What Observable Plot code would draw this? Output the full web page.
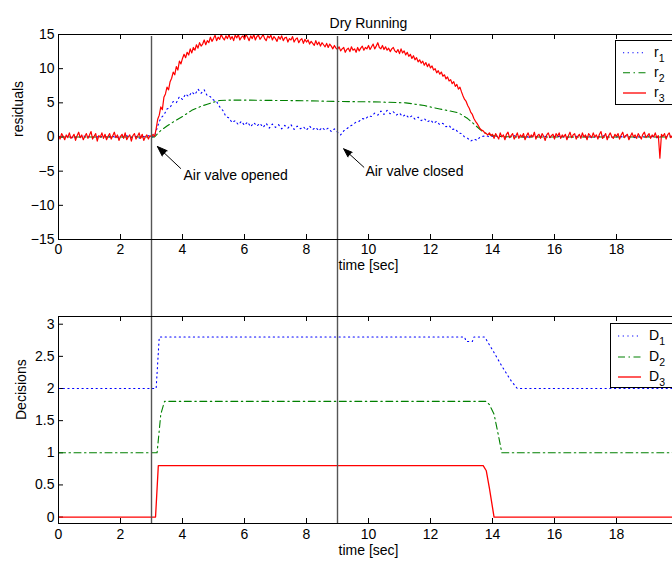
<!DOCTYPE html>
<html>
<head>
<meta charset="utf-8">
<script src="https://cdn.jsdelivr.net/npm/d3@7"></script>
<script src="https://cdn.jsdelivr.net/npm/@observablehq/plot@0.6"></script>
<style>
html, body { margin: 0; padding: 0; overflow: hidden; background: #fff; width: 672px; height: 562px; }
#wrap { position: relative; width: 700px; height: 562px; font-family: "Liberation Sans", Arial, sans-serif; }
#wrap > svg, #wrap > div { position: absolute; left: 0; }
</style>
</head>
<body>
<div id="wrap"></div>
<script>
// ---------------- data ----------------
const xTicks = [0, 2, 4, 6, 8, 10, 12, 14, 16, 18, 20];
const xTickLabels = [0, 2, 4, 6, 8, 10, 12, 14, 16, 18];
const yTicksTop = [-15, -10, -5, 0, 5, 10, 15];
const yTicksBottom = [0, 0.5, 1, 1.5, 2, 2.5, 3];
const events = [3, 9];

const title = "Dry Running";
const xLabel = "time [sec]";
const yLabelTop = "residuals";
const yLabelBottom = "Decisions";

// r1: one sample every r1Step seconds from t = 0
const r1Step = 0.1;
const r1 = [
  0.0, 0.2, -0.1, 0.1, 0.0, -0.2, 0.1, 0.0, 0.2, -0.1,
  0.1, 0.0, -0.2, 0.2, 0.0, 0.1, -0.1, 0.2, 0.0, -0.1,
  0.1, 0.0, 0.2, -0.1, 0.0, 0.1, -0.2, 0.1, 0.0, 0.2,
  0.0, 0.1, 1.6, 2.8, 3.2, 4.1, 4.3, 5.2, 5.0, 5.9,
  5.5, 6.3, 5.9, 6.6, 6.2, 7.0, 6.4, 6.9, 6.0, 5.9,
  5.4, 5.2, 4.4, 3.9, 3.0, 2.8, 2.1, 2.4, 1.8, 2.3,
  1.7, 2.2, 1.5, 2.1, 1.6, 2.0, 1.4, 2.0, 1.3, 1.9,
  1.4, 1.8, 1.2, 1.7, 1.3, 1.8, 1.1, 1.6, 1.2, 1.5,
  1.0, 1.6, 1.1, 1.4, 0.9, 1.4, 1.0, 1.3, 0.8, 1.2,
  0.7, 0.3, 0.9, 1.2, 1.6, 1.8, 2.2, 2.3, 2.7, 2.6,
  3.1, 3.0, 3.5, 3.2, 3.8, 3.3, 3.9, 3.4, 3.7, 3.2,
  3.5, 3.0, 3.3, 2.8, 3.1, 2.6, 2.9, 2.4, 2.7, 2.2,
  2.5, 2.0, 2.3, 1.8, 2.0, 1.5, 1.7, 1.1, 1.2, 0.6,
  0.5, 0.0, -0.2, -0.6, -0.3, -0.5, 0.0, 0.1, 0.2, 0.0,
  0.1, 0.2, 0.0, 0.1, -0.1, 0.1, 0.0, 0.2, 0.0, 0.1,
  0.0, 0.1, -0.1, 0.1, 0.0, 0.2, 0.0, 0.1, -0.1, 0.0,
  0.1, 0.0, 0.2, 0.0, -0.1, 0.1, 0.0, 0.1, 0.0, 0.2,
  0.0, 0.1, -0.1, 0.0, 0.1, 0.0, 0.2, 0.0, 0.1, -0.1,
  0.0, 0.1, 0.0, 0.2, 0.0, 0.1, -0.1, 0.0, 0.1, 0.0,
  0.2, 0.0, 0.1, -0.1, 0.0, 0.1, 0.0, 0.2, 0.0, 0.1,
  0.0
];
// r3: one sample every r3Step seconds from t = 0 (one row per second)
const r3Step = 0.05;
const r3 = [
  0.2, -0.3, 0.5, 0.1, -0.4, 0.3, -0.1, 0.6, -0.2, 0.0, 0.4, -0.5, 0.2, 0.7, -0.1, 0.3, -0.4, 0.1, 0.5, -0.2,
  0.3, 0.8, -0.3, 0.1, 0.5, -0.6, 0.2, 0.0, 0.6, -0.2, 0.4, -0.4, 0.1, 0.5, -0.3, 0.2, 0.7, -0.1, 0.3, -0.5,
  0.1, 0.4, -0.2, 0.6, -0.4, 0.0, 0.3, -0.6, 0.2, 0.5, -0.3, 0.1, 0.6, -0.2, 0.4, -0.5, 0.0, 0.3, -0.3, 0.2,
  0.0, 0.4, 0.1, 1.2, 2.6, 3.2, 4.4, 4.0, 5.8, 6.3, 7.3, 6.9, 8.1, 8.6, 9.5, 9.1, 10.3, 9.8, 11.1, 10.7,
  11.5, 12.1, 11.6, 12.4, 12.0, 12.9, 12.3, 13.1, 12.7, 13.5, 13.0, 13.8, 13.3, 13.6, 14.2, 13.5, 14.1, 13.8, 14.6, 14.0,
  14.4, 14.9, 14.1, 14.6, 14.3, 15.0, 14.5, 14.2, 14.8, 14.4, 15.0, 14.3, 14.7, 14.1, 14.9, 14.5, 15.0, 14.2, 14.6, 14.8,
  14.3, 15.0, 14.6, 14.1, 14.8, 14.4, 15.0, 14.2, 14.7, 14.9, 14.3, 14.6, 15.0, 14.4, 14.1, 14.8, 14.5, 14.9, 14.2, 14.7,
  14.4, 14.0, 14.7, 14.3, 14.8, 14.1, 14.5, 14.6, 13.9, 14.4, 14.2, 14.7, 13.9, 14.3, 14.5, 13.8, 14.2, 14.4, 13.7, 14.3,
  13.9, 14.2, 13.6, 14.0, 13.7, 13.4, 14.1, 13.5, 13.9, 13.3, 13.8, 13.5, 13.2, 13.7, 13.1, 13.6, 13.3, 12.9, 13.4, 13.0,
  12.8, 13.2, 12.6, 12.9, 13.1, 12.4, 12.8, 13.0, 12.5, 13.2, 12.7, 12.9, 12.4, 13.1, 12.6, 13.0, 13.3, 12.7, 13.1, 12.9,
  13.4, 12.8, 13.2, 13.6, 12.9, 13.3, 13.8, 13.1, 12.9, 13.4, 12.8, 13.2, 12.7, 13.0, 12.5, 12.9, 13.1, 12.6, 12.4, 12.8,
  12.2, 12.9, 12.3, 12.6, 12.0, 12.4, 11.8, 12.1, 11.5, 11.9, 11.3, 11.6, 11.0, 11.3, 10.8, 11.1, 10.5, 10.9, 10.3, 10.7,
  10.1, 10.4, 9.8, 10.0, 9.4, 9.7, 9.2, 9.5, 8.9, 9.1, 8.5, 8.8, 8.2, 8.4, 7.8, 8.1, 7.4, 7.7, 7.0, 7.3,
  6.6, 6.0, 5.5, 5.2, 4.6, 4.2, 3.6, 3.3, 2.7, 2.3, 2.0, 1.6, 1.2, 1.0, 0.9, 0.6, 0.5, 0.3, 0.6, 0.2,
  0.4, -0.2, 0.5, 0.1, -0.3, 0.6, 0.0, 0.3, -0.4, 0.4, 0.7, -0.1, 0.2, 0.5, -0.3, 0.1, 0.6, -0.2, 0.3, 0.0,
  0.5, -0.4, 0.2, 0.6, -0.1, 0.3, 0.0, 0.7, -0.3, 0.2, 0.4, -0.2, 0.5, 0.1, -0.5, 0.3, 0.6, -0.1, 0.2, 0.4,
  -0.3, 0.5, 0.1, 0.6, -0.2, 0.3, 0.0, 0.4, -0.4, 0.2, 0.7, -0.1, 0.3, 0.5, -0.3, 0.1, 0.4, -0.2, 0.6, 0.0,
  0.3, -0.4, 0.5, 0.2, -0.1, 0.6, 0.0, 0.3, -0.3, 0.4, 0.8, -0.2, 0.1, 0.5, -0.4, 0.2, 0.6, 0.0, -0.2, 0.4,
  0.1, 0.5, -0.3, 0.3, 0.7, -0.1, 0.2, 0.4, -0.4, 0.1, 0.6, 0.0, 0.3, -0.2, 0.5, 0.1, -0.3, 0.4, 0.7, -0.1,
  0.2, 0.5, -0.2, 0.3, 0.0, 0.6, -0.1, 0.2, -3.1, 0.4, 0.1, 0.5, -0.3, 0.3, 0.6, -0.1, 0.2, 0.4, -0.2, 0.3,
  0.1
];
// smooth residual r2 (time, value)
const r2Time  = [0, 3.1, 3.2, 3.3, 3.5, 3.7, 4.0, 4.3, 4.6, 4.8, 5.0, 5.2, 5.5, 6, 7, 8, 9, 10, 10.5, 11.2, 11.8, 12.3, 12.9, 13.2, 13.45, 13.7, 14.0, 14.3, 15, 20];
const r2Value = [0, 0, 0.5, 0.95, 1.6, 2.2, 3.0, 3.9, 4.5, 4.8, 5.1, 5.35, 5.4, 5.4, 5.35, 5.3, 5.2, 5.15, 5.1, 5.0, 4.6, 4.1, 3.55, 2.7, 1.7, 0.7, 0.2, 0.05, 0, 0];

// decisions (time, value)
const d1Time  = [0, 3.15, 3.25, 13.1, 13.15, 13.35, 13.4, 13.75, 14.0, 14.3, 14.6, 14.8, 20];
const d1Value = [2, 2, 2.8, 2.8, 2.73, 2.73, 2.8, 2.8, 2.6, 2.35, 2.12, 2.0, 2];
const d2Time  = [0, 3.18, 3.3, 3.42, 13.8, 13.9, 14.05, 14.2, 14.3, 20];
const d2Value = [1, 1, 1.6, 1.8, 1.8, 1.75, 1.6, 1.25, 1.0, 1];
const d3Time  = [0, 3.13, 3.22, 13.7, 13.8, 13.9, 14.05, 20];
const d3Value = [0, 0, 0.8, 0.8, 0.72, 0.45, 0.0, 0];

// annotations
const annotationText = ["Air valve opened", "Air valve closed"];
const annotationX = [4.03, 9.9];
const annotationY = [-5.6, -5.05];
const arrowTailX = [3.94, 9.85];
const arrowTailY = [-4.6, -4.42];
const arrowHeadX = [3.19, 9.2];
const arrowHeadY = [-1.39, -1.73];

// series styling
const seriesColors = ["#0000ff", "#008000", "#ff0000"];
const seriesDash = ["1.2,3.5", "7,3.5,1.5,3.5", null];
const residualNames = ["r", "r", "r"];
const decisionNames = ["D", "D", "D"];
const seriesSubs = ["1", "2", "3"];

// ---------------- tables ----------------
const r1Data = r1.map((v, i) => ({t: i * r1Step, v}));
const r3Data = r3.map((v, i) => ({t: i * r3Step, v}));
const r2Data = r2Time.map((t, i) => ({t, v: r2Value[i]}));
const d1Data = d1Time.map((t, i) => ({t, v: d1Value[i]}));
const d2Data = d2Time.map((t, i) => ({t, v: d2Value[i]}));
const d3Data = d3Time.map((t, i) => ({t, v: d3Value[i]}));
const annotations = annotationText.map((text, i) => ({
  text, x: annotationX[i], y: annotationY[i],
  x1: arrowTailX[i], y1: arrowTailY[i], x2: arrowHeadX[i], y2: arrowHeadY[i]
}));

// ---------------- drawing ----------------
const W = 700, ML = 58, MR = 22;
const innerW = W - ML - MR;
const FONT = '"Liberation Sans", Arial, Helvetica, sans-serif';
const fmt = d => d < 0 ? "\u2212" + Math.abs(d) : String(d);
const svgStyle = {fontFamily: FONT, fontSize: "14px", maxWidth: "none", overflow: "visible", background: "transparent", color: "#000"};

const topH = 290, topMT = 34, topMB = 51;
const topInner = topH - topMT - topMB;
const topPlot = Plot.plot({
  width: W, height: topH, marginLeft: ML, marginRight: MR, marginTop: topMT, marginBottom: topMB,
  style: svgStyle,
  x: {domain: [0, 20], ticks: xTickLabels, tickSize: 0, tickPadding: 5, label: null, tickFormat: fmt},
  y: {domain: [-15, 15], ticks: yTicksTop, tickSize: 0, tickPadding: 4, label: null, tickFormat: fmt},
  marks: [
    Plot.ruleX(xTicks, {stroke: "#000", insetTop: topInner - 5}),
    Plot.ruleX(xTicks, {stroke: "#000", insetBottom: topInner - 5}),
    Plot.ruleY(yTicksTop, {stroke: "#000", insetRight: innerW - 5}),
    Plot.line(r1Data, {x: "t", y: "v", stroke: seriesColors[0], strokeWidth: 1.1, strokeDasharray: seriesDash[0]}),
    Plot.line(r2Data, {x: "t", y: "v", stroke: seriesColors[1], strokeWidth: 1.1, strokeDasharray: seriesDash[1]}),
    Plot.line(r3Data, {x: "t", y: "v", stroke: seriesColors[2], strokeWidth: 1.2}),
    Plot.ruleX(events, {stroke: "#555", strokeWidth: 1.4, insetTop: 2, insetBottom: -topMB}),
    Plot.arrow(annotations, {x1: "x1", y1: "y1", x2: "x2", y2: "y2", stroke: "#000", fill: "#000", strokeWidth: 1, headLength: 19, headAngle: 40}),
    Plot.text(annotations, {x: "x", y: "y", text: "text", textAnchor: "start", fontSize: 14, fill: "#000"}),
    Plot.frame({stroke: "#000"}),
    Plot.text([title], {frameAnchor: "top", dy: -16.5, fontSize: 14, fill: "#000"}),
    Plot.text([xLabel], {frameAnchor: "bottom", dy: 30, fontSize: 14, fill: "#000"}),
    Plot.text([yLabelTop], {frameAnchor: "left", dx: -40, rotate: -90, fontSize: 14, fill: "#000"})
  ]
});

const botTop = 290, botH = 272, botMT = 26, botMB = 39;
const botInner = botH - botMT - botMB;
const botPlot = Plot.plot({
  width: W, height: botH, marginLeft: ML, marginRight: MR, marginTop: botMT, marginBottom: botMB,
  style: svgStyle,
  x: {domain: [0, 20], ticks: xTickLabels, tickSize: 0, tickPadding: 6, label: null, tickFormat: fmt},
  y: {domain: [-0.1, 3.12], ticks: yTicksBottom, tickSize: 0, tickPadding: 4, label: null, tickFormat: fmt},
  marks: [
    Plot.ruleX(xTicks, {stroke: "#000", insetTop: botInner - 5}),
    Plot.ruleX(xTicks, {stroke: "#000", insetBottom: botInner - 5}),
    Plot.ruleY(yTicksBottom, {stroke: "#000", insetRight: innerW - 5}),
    Plot.line(d1Data, {x: "t", y: "v", stroke: seriesColors[0], strokeWidth: 1.1, strokeDasharray: seriesDash[0]}),
    Plot.line(d2Data, {x: "t", y: "v", stroke: seriesColors[1], strokeWidth: 1.1, strokeDasharray: seriesDash[1]}),
    Plot.line(d3Data, {x: "t", y: "v", stroke: seriesColors[2], strokeWidth: 1.3}),
    Plot.ruleX(events, {stroke: "#555", strokeWidth: 1.4, insetTop: -botMT}),
    Plot.frame({stroke: "#000"}),
    Plot.text([xLabel], {frameAnchor: "bottom", dy: 31, fontSize: 14, fill: "#000"}),
    Plot.text([yLabelBottom], {frameAnchor: "left", dx: -37, rotate: -90, fontSize: 14, fill: "#000"})
  ]
});

const wrap = document.getElementById("wrap");
topPlot.style.top = "0px";
botPlot.style.top = botTop + "px";
wrap.appendChild(topPlot);
wrap.appendChild(botPlot);

// legends (boxes with line samples)
function addLegend(left, top, rowYs, names) {
  const w = 90, h = 65;
  const svg = d3.create("svg")
    .attr("width", w).attr("height", h)
    .style("position", "absolute").style("left", left + "px").style("top", top + "px")
    .style("overflow", "visible");
  svg.append("rect").attr("x", 0.5).attr("y", 0.5).attr("width", w).attr("height", h - 1)
    .attr("fill", "#fff").attr("stroke", "#000");
  names.forEach((name, i) => {
    const y = rowYs[i];
    svg.append("line").attr("x1", 8).attr("x2", 31).attr("y1", y).attr("y2", y)
      .attr("stroke", seriesColors[i]).attr("stroke-width", i === 2 ? 1.3 : 1.1)
      .attr("stroke-dasharray", seriesDash[i]);
    const t = svg.append("text").attr("x", 39).attr("y", y + 4)
      .attr("font-family", FONT).attr("font-size", 14).attr("fill", "#000");
    t.append("tspan").text(name);
    t.append("tspan").attr("dy", 5).attr("font-size", 10.5).text(seriesSubs[i]);
  });
  wrap.appendChild(svg.node());
}
addLegend(615, 40, [12.7, 32.7, 53], residualNames);
addLegend(610, 323, [13, 34, 54], decisionNames);
</script>
</body>
</html>
